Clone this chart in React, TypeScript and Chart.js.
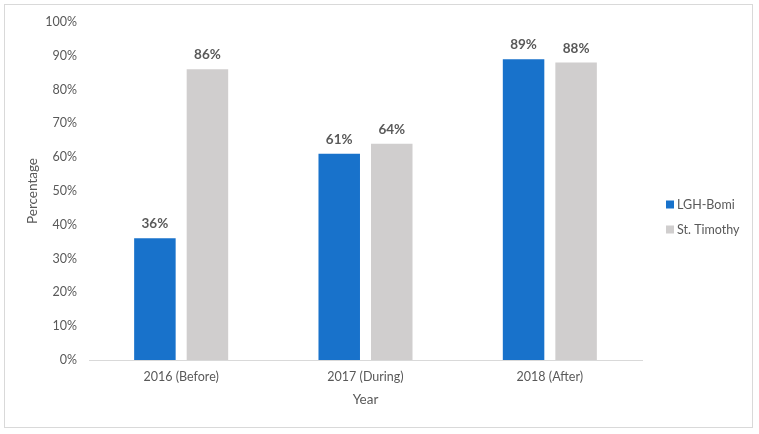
import React, { useEffect, useRef } from "react";
import { Chart, registerables } from "chart.js";

Chart.register(...registerables);

const categories = ["2016 (Before)", "2017 (During)", "2018 (After)"];
const seriesNames = ["LGH-Bomi", "St. Timothy"];
const lghBomi = [36, 61, 89];
const stTimothy = [86, 64, 88];
const seriesColors = ["#1872CB", "#D0CECE"];
const yMin = 0;
const yMax = 100;
const yStep = 10;
const xTitle = "Year";
const yTitle = "Percentage";

const FONT = "Lato, 'Open Sans', sans-serif";
const TEXT = "#595959";

const dataLabelPlugin = {
  id: "dataLabels",
  afterDatasetsDraw(chart: any) {
    const ctx = chart.ctx;
    ctx.save();
    ctx.font = `bold 13.5px ${FONT}`;
    ctx.fillStyle = TEXT;
    ctx.textAlign = "center";
    ctx.textBaseline = "alphabetic";
    chart.data.datasets.forEach((ds: any, i: number) => {
      const meta = chart.getDatasetMeta(i);
      meta.data.forEach((el: any, j: number) => {
        ctx.fillText(`${ds.data[j]}%`, el.x, el.y - 10);
      });
    });
    ctx.restore();
  },
};

const legendPlugin = {
  id: "sideLegend",
  afterDraw(chart: any) {
    const ctx = chart.ctx;
    const x0 = chart.chartArea.right + 24;
    const midY = chart.height / 2;
    const gap = 25;
    const n = chart.data.datasets.length;
    ctx.save();
    ctx.font = `12.5px ${FONT}`;
    ctx.textAlign = "left";
    ctx.textBaseline = "middle";
    chart.data.datasets.forEach((ds: any, i: number) => {
      const cy = midY + (i - (n - 1) / 2) * gap;
      ctx.fillStyle = ds.backgroundColor;
      ctx.fillRect(x0, cy - 4, 8, 8);
      ctx.fillStyle = TEXT;
      ctx.fillText(ds.label, x0 + 11, cy);
    });
    ctx.restore();
  },
};

export default function App() {
  const canvasRef = useRef<HTMLCanvasElement | null>(null);

  useEffect(() => {
    if (!canvasRef.current) return;
    const chart = new Chart(canvasRef.current, {
      type: "bar",
      data: {
        labels: categories,
        datasets: [
          {
            label: seriesNames[0],
            data: lghBomi,
            backgroundColor: seriesColors[0],
            categoryPercentage: 0.57,
            barPercentage: 0.79,
          },
          {
            label: seriesNames[1],
            data: stTimothy,
            backgroundColor: seriesColors[1],
            categoryPercentage: 0.57,
            barPercentage: 0.79,
          },
        ],
      },
      options: {
        responsive: false,
        animation: false,
        maintainAspectRatio: false,
        layout: { padding: { left: 21, top: 22, right: 117, bottom: 22 } },
        plugins: {
          legend: { display: false },
          tooltip: { enabled: false },
        },
        scales: {
          x: {
            grid: { display: false, drawTicks: false },
            border: { display: true, color: "#D9D9D9", width: 1 },
            ticks: { color: TEXT, font: { family: FONT, size: 12.5 }, padding: 9 },
            title: {
              display: true,
              text: xTitle,
              color: TEXT,
              font: { family: FONT, size: 13.5 },
              padding: { top: 4, bottom: 4 },
            },
            afterFit(scale: any) {
              scale.height = 52;
            },
          },
          y: {
            min: yMin,
            max: yMax,
            grid: { display: false, drawTicks: false },
            border: { display: false },
            ticks: {
              stepSize: yStep,
              color: TEXT,
              font: { family: FONT, size: 12.5 },
              padding: 12,
              callback: (v: any) => `${v}%`,
            },
            title: {
              display: true,
              text: yTitle,
              color: TEXT,
              font: { family: FONT, size: 13.5 },
              padding: { top: 4, bottom: 4 },
            },
            afterFit(scale: any) {
              scale.width = 68;
            },
          },
        },
      },
      plugins: [dataLabelPlugin, legendPlugin],
    });
    return () => chart.destroy();
  }, []);

  return (
    <div style={{ position: "fixed", left: 0, top: 0, width: 759, height: 434, background: "#fff" }}>
      <div
        style={{
          position: "absolute",
          left: 4,
          top: 4,
          width: 749,
          height: 424,
          border: "1px solid #D9D9D9",
          boxSizing: "border-box",
        }}
      />
      <canvas
        ref={canvasRef}
        width={759}
        height={434}
        style={{ position: "absolute", left: 0, top: 0, width: 759, height: 434 }}
      />
    </div>
  );
}
